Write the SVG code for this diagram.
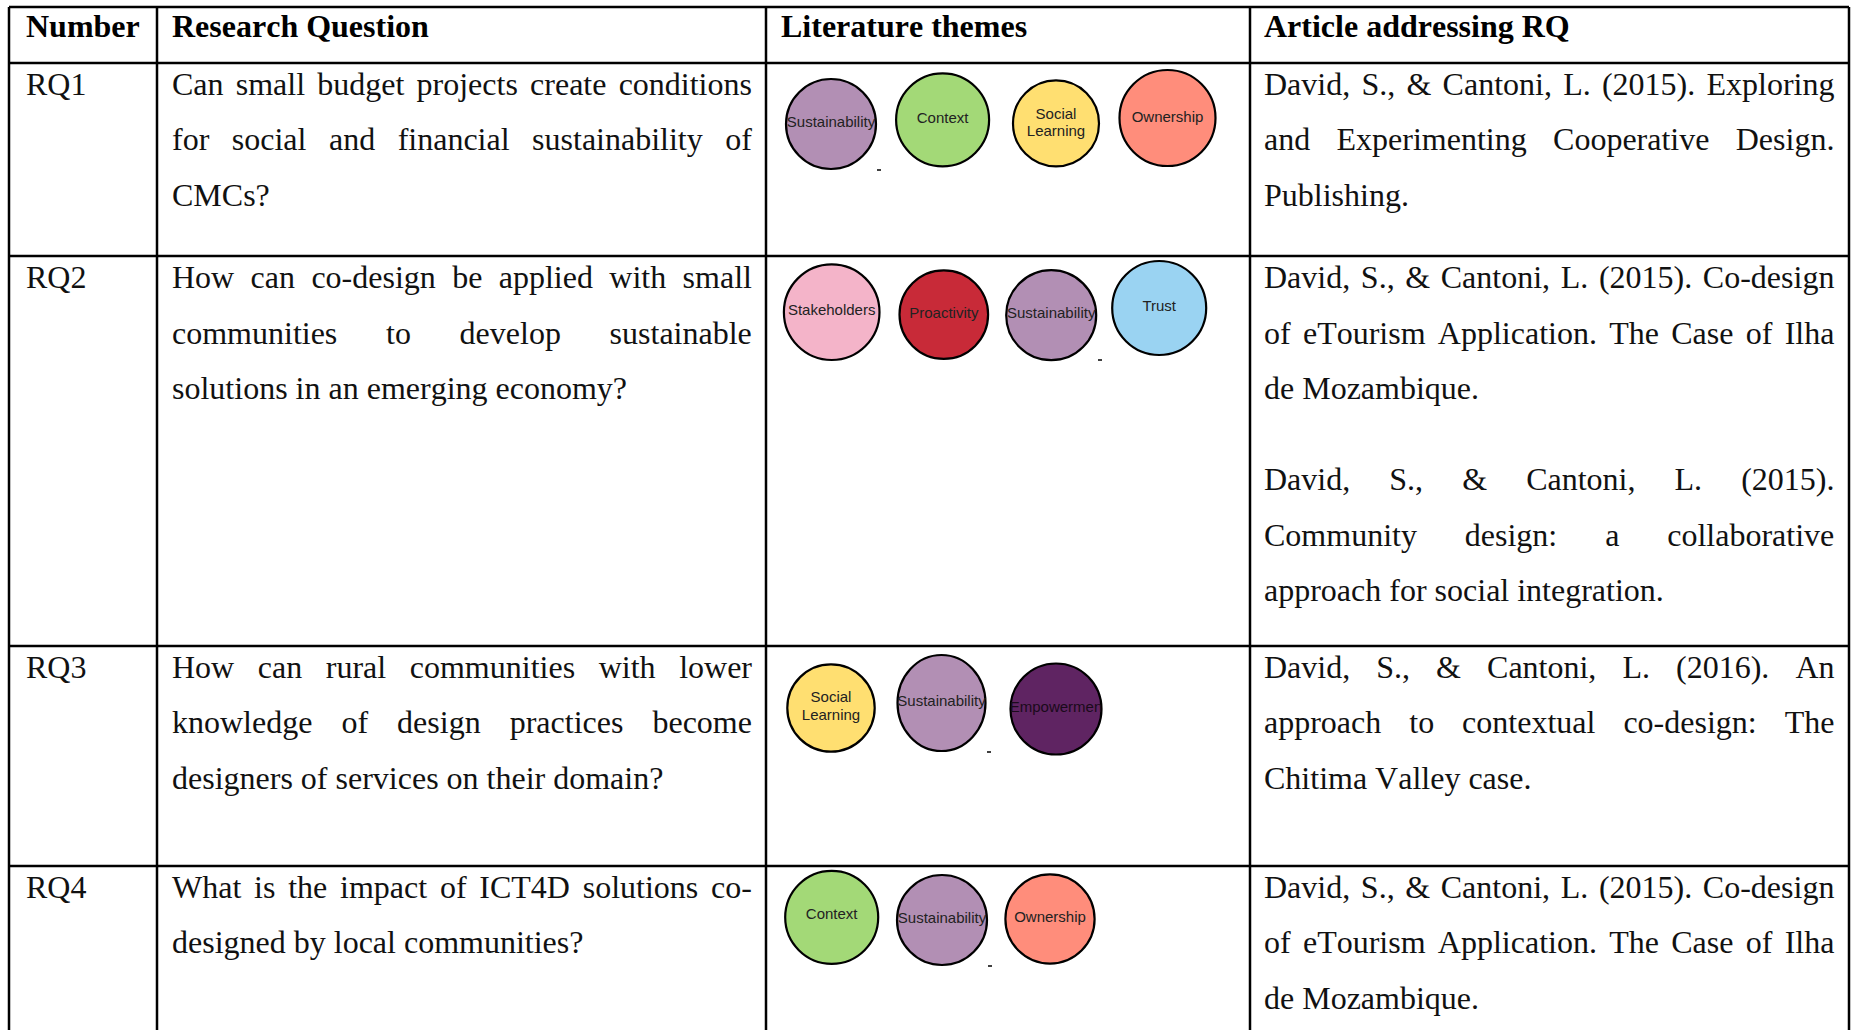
<svg xmlns="http://www.w3.org/2000/svg" width="1851" height="1030" viewBox="0 0 1851 1030">
<style>
.t{font-family:"Liberation Serif","Times New Roman",serif;font-size:32px;fill:#111;font-kerning:none}
.h{font-family:"Liberation Serif","Times New Roman",serif;font-size:32px;font-weight:bold;fill:#000;font-kerning:none}
.c{font-family:"Liberation Sans",Arial,sans-serif;font-size:15px;fill:#222;text-anchor:middle}
.ln{stroke:#000;stroke-width:2.5;fill:none}
.bub{stroke:#000;stroke-width:2.2}
.dash{stroke:#000;stroke-width:1.5}
</style>
<defs>
<clipPath id="clipEmp"><circle cx="1056" cy="709" r="45.5"/></clipPath>
</defs>
<rect width="1851" height="1030" fill="#fff"/>

<g id="grid">
<line class="ln" x1="9" y1="7" x2="1849" y2="7"/>
<line class="ln" x1="9" y1="63" x2="1849" y2="63"/>
<line class="ln" x1="9" y1="256" x2="1849" y2="256"/>
<line class="ln" x1="9" y1="646" x2="1849" y2="646"/>
<line class="ln" x1="9" y1="866" x2="1849" y2="866"/>
<line class="ln" x1="9" y1="7" x2="9" y2="1030"/>
<line class="ln" x1="157" y1="7" x2="157" y2="1030"/>
<line class="ln" x1="766" y1="7" x2="766" y2="1030"/>
<line class="ln" x1="1250" y1="7" x2="1250" y2="1030"/>
<line class="ln" x1="1849" y1="7" x2="1849" y2="1030"/>
</g>

<g id="header">
<text class="h" x="26" y="37">Number</text>
<text class="h" x="172" y="37">Research Question</text>
<text class="h" x="781" y="37">Literature themes</text>
<text class="h" x="1264" y="37">Article addressing RQ</text>
</g>

<g id="rq1">
<text class="t" x="26" y="94.5">RQ1</text>
<text class="t" x="172" y="94.5" word-spacing="4.2">Can small budget projects create conditions</text>
<text class="t" x="172" y="150" word-spacing="14.5">for social and financial sustainability of</text>
<text class="t" x="172" y="205.5">CMCs?</text>
<text class="t" x="1264" y="94.5" word-spacing="3.23">David, S., &amp; Cantoni, L. (2015). Exploring</text>
<text class="t" x="1264" y="150" word-spacing="18.33">and Experimenting Cooperative Design.</text>
<text class="t" x="1264" y="205.5">Publishing.</text>
<g id="rq1-themes">
<g id="rq1-sustainability"><circle class="bub" cx="831" cy="124" r="45" fill="#b28fb4"/><text class="c" x="831" y="127">Sustainability</text></g>
<g id="rq1-context"><circle class="bub" cx="942.6" cy="119.8" r="46.5" fill="#a3d977"/><text class="c" x="942.6" y="123">Context</text></g>
<g id="rq1-social"><circle class="bub" cx="1056" cy="123.4" r="43" fill="#ffdf71"/><text class="c" x="1056" y="118.5">Social</text><text class="c" x="1056" y="136">Learning</text></g>
<g id="rq1-ownership"><circle class="bub" cx="1167.5" cy="118" r="48" fill="#ff8d7b"/><text class="c" x="1167.5" y="122">Ownership</text></g>
<line class="dash" x1="877" y1="170" x2="881" y2="170"/>
</g>
</g>

<g id="rq2">
<text class="t" x="26" y="288">RQ2</text>
<text class="t" x="172" y="288" word-spacing="8.38">How can co-design be applied with small</text>
<text class="t" x="172" y="343.5" word-spacing="40.7">communities to develop sustainable</text>
<text class="t" x="172" y="399">solutions in an emerging economy?</text>
<text class="t" x="1264" y="288" word-spacing="2.63">David, S., &amp; Cantoni, L. (2015). Co-design</text>
<text class="t" x="1264" y="343.5" word-spacing="4.28">of eTourism Application. The Case of Ilha</text>
<text class="t" x="1264" y="399">de Mozambique.</text>
<text class="t" x="1264" y="490" word-spacing="31.08">David, S., &amp; Cantoni, L. (2015).</text>
<text class="t" x="1264" y="545.5" word-spacing="39.9">Community design: a collaborative</text>
<text class="t" x="1264" y="601">approach for social integration.</text>
<g id="rq2-themes">
<g id="rq2-stakeholders"><circle class="bub" cx="831.7" cy="312.2" r="47.8" fill="#f4b4c9"/><text class="c" x="831.7" y="314.5">Stakeholders</text></g>
<g id="rq2-proactivity"><circle class="bub" cx="943.8" cy="314.6" r="44.3" fill="#c82a38"/><text class="c" x="943.8" y="318">Proactivity</text></g>
<g id="rq2-sustainability"><circle class="bub" cx="1051.2" cy="315.2" r="45" fill="#b28fb4"/><text class="c" x="1051.2" y="318">Sustainability</text></g>
<g id="rq2-trust"><circle class="bub" cx="1159.2" cy="308" r="47" fill="#9ad3f2"/><text class="c" x="1159.2" y="311">Trust</text></g>
<line class="dash" x1="1098" y1="360" x2="1102" y2="360"/>
</g>
</g>

<g id="rq3">
<text class="t" x="26" y="677.5">RQ3</text>
<text class="t" x="172" y="677.5" word-spacing="15.58">How can rural communities with lower</text>
<text class="t" x="172" y="733" word-spacing="21.03">knowledge of design practices become</text>
<text class="t" x="172" y="788.5">designers of services on their domain?</text>
<text class="t" x="1264" y="677.5" word-spacing="18.05">David, S., &amp; Cantoni, L. (2016). An</text>
<text class="t" x="1264" y="733" word-spacing="19.98">approach to contextual co-design: The</text>
<text class="t" x="1264" y="788.5">Chitima Valley case.</text>
<g id="rq3-themes">
<g id="rq3-social"><circle class="bub" cx="831" cy="708" r="43.7" fill="#ffdf71"/><text class="c" x="831" y="702">Social</text><text class="c" x="831" y="719.5">Learning</text></g>
<g id="rq3-sustainability"><ellipse class="bub" cx="941.5" cy="703" rx="44" ry="48" fill="#b28fb4"/><text class="c" x="941.5" y="705.5">Sustainability</text></g>
<g id="rq3-empowerment"><circle class="bub" cx="1056" cy="709" r="45.5" fill="#5f2462"/><text class="c" x="1056" y="711.5" clip-path="url(#clipEmp)" style="fill:#1a0a1a">Empowermen</text></g>
<line class="dash" x1="987" y1="752" x2="991" y2="752"/>
</g>
</g>

<g id="rq4">
<text class="t" x="26" y="897.5">RQ4</text>
<text class="t" x="172" y="897.5" word-spacing="4.77">What is the impact of ICT4D solutions co-</text>
<text class="t" x="172" y="953">designed by local communities?</text>
<text class="t" x="1264" y="897.5" word-spacing="2.63">David, S., &amp; Cantoni, L. (2015). Co-design</text>
<text class="t" x="1264" y="953" word-spacing="4.28">of eTourism Application. The Case of Ilha</text>
<text class="t" x="1264" y="1008.5">de Mozambique.</text>
<g id="rq4-themes">
<g id="rq4-context"><circle class="bub" cx="831.7" cy="917.3" r="46.5" fill="#a3d977"/><text class="c" x="831.7" y="919">Context</text></g>
<g id="rq4-sustainability"><circle class="bub" cx="942" cy="920" r="45" fill="#b28fb4"/><text class="c" x="942" y="922.5">Sustainability</text></g>
<g id="rq4-ownership"><circle class="bub" cx="1050" cy="919" r="44.6" fill="#ff8d7b"/><text class="c" x="1050" y="921.5">Ownership</text></g>
<line class="dash" x1="988" y1="966" x2="992" y2="966"/>
</g>
</g>
</svg>
